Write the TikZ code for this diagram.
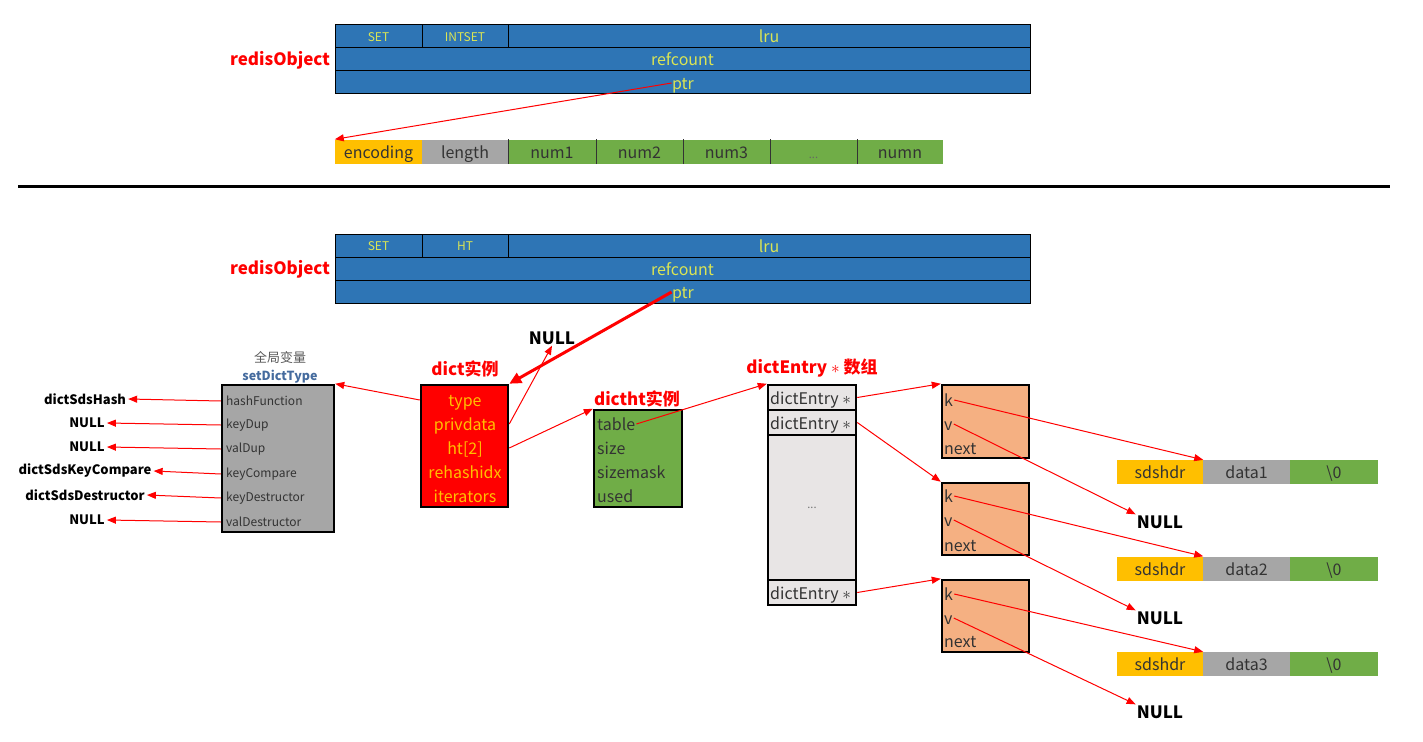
\documentclass[tikz,border=0pt]{standalone}
\usepackage{fontspec}
\setmainfont{Noto Sans CJK SC}
\usepackage{tikz}
\usetikzlibrary{arrows.meta}
\definecolor{objblue}{rgb}{0.18, 0.46, 0.71}
\definecolor{objtext}{rgb}{0.86, 0.9, 0.33}
\definecolor{morange}{rgb}{1, 0.75, 0}
\definecolor{mgray}{rgb}{0.65, 0.65, 0.65}
\definecolor{mgreen}{rgb}{0.44, 0.68, 0.28}
\definecolor{mred}{rgb}{1, 0, 0}
\definecolor{msalmon}{rgb}{0.96, 0.69, 0.51}
\definecolor{mlight}{rgb}{0.91, 0.9, 0.9}
\definecolor{mtypeblue}{rgb}{0.27, 0.42, 0.62}
\tikzset{objcell/.style = {draw, line width = 1pt, fill = objblue, text = objtext, minimum height = 23pt, inner sep = 0, text height = 13pt, text depth = 0pt, font = \fontsize{16}{18}\selectfont}}
\tikzset{tagcell/.style = {objcell, text height = 10pt, font = \fontsize{12}{14}\selectfont}}
\tikzset{arrcell/.style = {minimum width = 87pt, minimum height = 24pt, inner sep = 0, text height = 13pt, text depth = 0pt, text = black!80, font = \fontsize{16}{18}\selectfont}}
\tikzset{box/.style = {draw, line width = 2.5pt, inner sep = 0}}
\tikzset{field/.style = {anchor = west, inner sep = 1pt, text height = 13pt, text depth = 0pt, text = black!80, font = \fontsize{16}{18}\selectfont}}
\tikzset{smallfield/.style = {anchor = west, inner sep = 1pt, text = black!80, font = \fontsize{12}{14}\selectfont}}
\tikzset{redlabel/.style = {text = mred, font = \bfseries\fontsize{17}{19}\selectfont}}
\tikzset{fname/.style = {inner sep = 2pt, font = \bfseries\fontsize{13}{15}\selectfont}}
\tikzset{nullname/.style = {inner sep = 1pt, font = \bfseries\fontsize{17}{19}\selectfont}}
\tikzset{ptrarrow/.style = {mred, line width = 1pt, -{Triangle[length = 9pt, width = 7pt]}}}

\begin{document}
\begin{tikzpicture}[x = 1pt, y = -1pt]
    \useasboundingbox (0, 0) rectangle (1423, 741);

    \node [tagcell, minimum width = 87pt] (set1) at (378.5, 36.5) {SET};
    \node [tagcell, minimum width = 86pt] (intset1) at (465, 36.5) {INTSET};
    \node [objcell, minimum width = 522pt] (lru1) at (769, 36.5) {lru};
    \node [objcell, minimum width = 695pt] (ref1) at (682.5, 59.5) {refcount};
    \node [objcell, minimum width = 695pt] (row1) at (682.5, 82.5) {};
    \node [objcell, draw = none, fill = none, minimum height = 0pt] (ptr1) at (683, 83) {ptr};
    \node [redlabel] (obj1) at (280, 60) {redisObject};

    \node [arrcell, fill = morange] (encoding) at (378.5, 151.5) {encoding};
    \node [arrcell, fill = mgray, minimum width = 86pt] (length) at (465, 151.5) {length};
    \node [arrcell, fill = mgreen, minimum width = 88pt] (num1) at (552, 151.5) {num1};
    \node [arrcell, fill = mgreen] (num2) at (639.5, 151.5) {num2};
    \node [arrcell, fill = mgreen] (num3) at (726.5, 151.5) {num3};
    \node [arrcell, fill = mgreen, text = black!60] (dots) at (813.5, 151.5) {\fontsize{11}{12}\selectfont ...};
    \node [arrcell, fill = mgreen, minimum width = 86pt] (numn) at (900, 151.5) {numn};
    \foreach \c in {length, num1, num2, num3, dots}
      \draw [black!80, line width = 0.8pt] (\c.north east) -- (\c.south east);

    \draw [ptrarrow] (ptr1.west) -- (encoding.north west);

    \draw [line width = 3pt] (18, 186) -- (1390, 186);

    \node [tagcell, minimum width = 87pt] (set2) at (378.5, 245.5) {SET};
    \node [tagcell, minimum width = 86pt] (ht2) at (465, 245.5) {HT};
    \node [objcell, minimum width = 522pt] (lru2) at (769, 245.5) {lru};
    \node [objcell, minimum width = 695pt] (ref2) at (682.5, 268.5) {refcount};
    \node [objcell, minimum width = 695pt] (row2) at (682.5, 291.5) {};
    \node [objcell, draw = none, fill = none, minimum height = 0pt] (ptr2) at (683, 292) {ptr};
    \node [redlabel] (obj2) at (280, 269) {redisObject};

    \node [box, fill = mgray, minimum width = 112pt, minimum height = 147pt] (sdt) at (278, 458.5) {};
    \node [text = black!65, font = \fontsize{13}{15}\selectfont] (glob) at (280, 357) {全局变量};
    \node [text = mtypeblue, font = \bfseries\fontsize{12.5}{15}\selectfont] (sdtname) at (280, 377) {setDictType};
    \node [smallfield] (hashfn) at (225, 401) {hashFunction};
    \node [smallfield] (keydup) at (225, 425) {keyDup};
    \node [smallfield] (valdup) at (225, 449) {valDup};
    \node [smallfield] (keycmp) at (225, 474) {keyCompare};
    \node [smallfield] (keydtor) at (225, 498) {keyDestructor};
    \node [smallfield] (valdtor) at (225, 522) {valDestructor};

    \node [fname] (thash) at (85, 399) {dictSdsHash};
    \node [fname] (tkeydup) at (87, 423) {NULL};
    \node [fname] (tvaldup) at (87, 447) {NULL};
    \node [fname] (tkeycmp) at (85, 471) {dictSdsKeyCompare};
    \node [fname] (tkeydtor) at (85, 495) {dictSdsDestructor};
    \node [fname] (tvaldtor) at (87, 520) {NULL};
    \draw [ptrarrow] (sdt.west |- hashfn) -- (thash.east);
    \draw [ptrarrow] (sdt.west |- keydup) -- (tkeydup.east);
    \draw [ptrarrow] (sdt.west |- valdup) -- (tvaldup.east);
    \draw [ptrarrow] (sdt.west |- keycmp) -- (tkeycmp.east);
    \draw [ptrarrow] (sdt.west |- keydtor) -- (tkeydtor.east);
    \draw [ptrarrow] (sdt.west |- valdtor) -- (tvaldtor.east);

    \node [box, fill = mred, minimum width = 87pt, minimum height = 122pt] (dict) at (464.5, 446) {};
    \node [redlabel] (dictname) at (465, 369) {dict实例};
    \node [field, anchor = center, text = morange] (dtype) at (465, 400) {type};
    \node [field, anchor = center, text = morange] (dpriv) at (465, 424) {privdata};
    \node [field, anchor = center, text = morange] (dht) at (465, 448) {ht[2]};
    \node [field, anchor = center, text = morange] (drehash) at (465, 472) {rehashidx};
    \node [field, anchor = center, text = morange] (diter) at (465, 496) {iterators};
    \node [nullname] (nullp) at (552, 338) {NULL};

    \draw [mred, line width = 3pt, -{Triangle[length = 12pt, width = 11pt]}] (ptr2.west) -- (dict.north east);
    \draw [ptrarrow] (dict.west |- dtype) -- (sdt.north east);
    \draw [ptrarrow] (dict.east |- dpriv) -- (nullp.south);

    \node [box, fill = mgreen, minimum width = 88pt, minimum height = 97pt] (dictht) at (638, 458.5) {};
    \node [redlabel] (dicthtname) at (637, 399) {dictht实例};
    \node [field] (tbl) at (596, 424) {table};
    \node [field] (tsize) at (596, 448) {size};
    \node [field] (tmask) at (596, 472) {sizemask};
    \node [field] (tused) at (596, 496) {used};
    \draw [ptrarrow] (dict.east |- dht) -- (dictht.north west);

    \node [box, fill = mlight, minimum width = 88pt, minimum height = 25pt] (ent1) at (812, 397.5) {};
    \node [box, fill = mlight, minimum width = 88pt, minimum height = 25pt] (ent2) at (812, 422.5) {};
    \node [box, fill = mlight, minimum width = 88pt, minimum height = 145pt, text = black!55] (entdots) at (812, 507.5) {\fontsize{11}{12}\selectfont ...};
    \node [box, fill = mlight, minimum width = 88pt, minimum height = 25pt] (ent3) at (812, 592.5) {};
    \node [field] (ent1txt) at (769, 398) {dictEntry $\ast$};
    \node [field] (ent2txt) at (769, 423) {dictEntry $\ast$};
    \node [field] (ent3txt) at (769, 593) {dictEntry $\ast$};
    \node [redlabel] (entname) at (812, 368) {dictEntry $\ast$ 数组};
    \draw [ptrarrow] (tbl.east) -- (ent1.north west);

    \node [box, fill = msalmon, minimum width = 87pt, minimum height = 73pt] (e1) at (985.5, 421.5) {};
    \node [box, fill = msalmon, minimum width = 87pt, minimum height = 72pt] (e2) at (985.5, 519) {};
    \node [box, fill = msalmon, minimum width = 87pt, minimum height = 72pt] (e3) at (985.5, 616) {};
    \node [field] (k1) at (943, 400) {k};
    \node [field] (v1) at (943, 424) {v};
    \node [field] (n1) at (943, 448) {next};
    \node [field] (k2) at (943, 496) {k};
    \node [field] (v2) at (943, 520) {v};
    \node [field] (n2) at (943, 545) {next};
    \node [field] (k3) at (943, 594) {k};
    \node [field] (v3) at (943, 618) {v};
    \node [field] (n3) at (943, 641) {next};
    \draw [ptrarrow] (ent1.east) -- (e1.north west);
    \draw [ptrarrow] (ent2.east) -- (e2.north west);
    \draw [ptrarrow] (ent3.east) -- (e3.north west);

    \node [arrcell, fill = morange, minimum width = 86pt] (hdr1) at (1160, 472) {sdshdr};
    \node [arrcell, fill = mgray] (data1) at (1246.5, 472) {data1};
    \node [arrcell, fill = mgreen, minimum width = 88pt] (end1) at (1334, 472) {\textbackslash 0};
    \node [arrcell, fill = morange, minimum width = 86pt] (hdr2) at (1160, 568.5) {sdshdr};
    \node [arrcell, fill = mgray] (data2) at (1246.5, 568.5) {data2};
    \node [arrcell, fill = mgreen, minimum width = 88pt] (end2) at (1334, 568.5) {\textbackslash 0};
    \node [arrcell, fill = morange, minimum width = 86pt] (hdr3) at (1160, 664) {sdshdr};
    \node [arrcell, fill = mgray] (data3) at (1246.5, 664) {data3};
    \node [arrcell, fill = mgreen, minimum width = 88pt] (end3) at (1334, 664) {\textbackslash 0};

    \node [nullname] (null1) at (1160, 522) {NULL};
    \node [nullname] (null2) at (1160, 618) {NULL};
    \node [nullname] (null3) at (1160, 712) {NULL};

    \draw [ptrarrow] (k1.east) -- (hdr1.north east);
    \draw [ptrarrow] (v1.east) -- (null1.north west);
    \draw [ptrarrow] (k2.east) -- (hdr2.north east);
    \draw [ptrarrow] (v2.east) -- (null2.north west);
    \draw [ptrarrow] (k3.east) -- (hdr3.north east);
    \draw [ptrarrow] (v3.east) -- (null3.north west);
\end{tikzpicture}
\end{document}
